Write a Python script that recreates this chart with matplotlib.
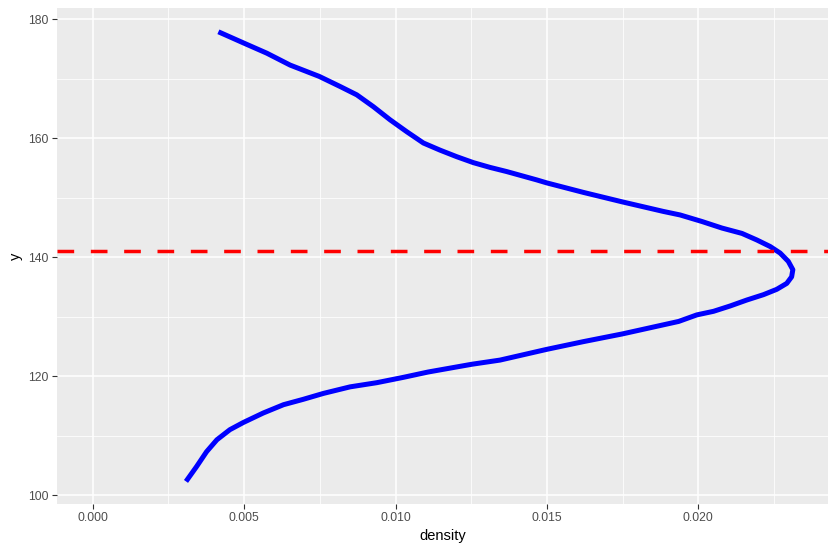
import matplotlib
matplotlib.use("Agg")
import matplotlib.pyplot as plt
from matplotlib.ticker import MultipleLocator, FormatStrFormatter

# density curve (ordered by y)
y_vals = [102.3, 104.8, 107.3, 109.3, 111.0, 112.2, 113.8, 115.2, 116.1, 117.1,
          118.2, 118.9, 119.8, 120.7, 122.0, 122.7, 123.6, 124.5, 125.8,
          127.1, 129.2, 130.3, 130.9, 131.8, 132.8, 133.7, 134.6, 135.6, 136.7,
          137.9, 139.3, 140.7, 141.8, 142.9, 144.0, 144.9, 146.0, 147.1, 147.7,
          149.3, 150.9, 152.5, 153.0, 154.4, 155.1, 155.9, 156.9, 158.0, 159.2,
          161.1, 163.1, 165.3, 167.3, 168.7, 170.4, 172.3, 174.3, 176.0, 177.9]
density = [0.00308, 0.00343, 0.00376, 0.00410, 0.00453, 0.00497, 0.00563, 0.00630,
           0.00695, 0.00762, 0.00850, 0.00938, 0.01026, 0.01108, 0.01252,
           0.01345, 0.01422, 0.01499, 0.01620, 0.01749, 0.01935, 0.01995, 0.02050,
           0.02105, 0.02160, 0.02215, 0.02259, 0.02292, 0.02308, 0.02312, 0.02297,
           0.02270, 0.02237, 0.02193, 0.02144, 0.02078, 0.02012, 0.01940, 0.01884,
           0.01749, 0.01620, 0.01499, 0.01466, 0.01367, 0.01312, 0.01257, 0.01202,
           0.01147, 0.01092, 0.01037, 0.00982, 0.00927, 0.00872, 0.00817, 0.00748,
           0.00652, 0.00575, 0.00499, 0.00415]
hline_y = 141.0

plt.rcParams['font.family'] = ['Liberation Sans', 'DejaVu Sans']

fig = plt.figure(figsize=(8.37, 5.56), dpi=100)
ax = fig.add_axes([0.0681, 0.0935, 0.9211, 0.8921])

ax.set_facecolor('#EBEBEB')
for s in ax.spines.values():
    s.set_visible(False)

ax.xaxis.set_major_locator(MultipleLocator(0.005))
ax.xaxis.set_minor_locator(MultipleLocator(0.0025))
ax.yaxis.set_major_locator(MultipleLocator(20))
ax.yaxis.set_minor_locator(MultipleLocator(10))
ax.xaxis.set_major_formatter(FormatStrFormatter('%.3f'))
ax.grid(which='major', color='white', linewidth=1.1)
ax.grid(which='minor', color='white', linewidth=0.55)
ax.set_axisbelow(True)
ax.tick_params(which='minor', length=0)
ax.tick_params(which='major', length=3.5, width=0.8, color='#333333',
               labelcolor='#4D4D4D', labelsize=8.8, pad=2.5)

ax.plot(density, y_vals, color='blue', linewidth=3.6, solid_capstyle='butt',
        solid_joinstyle='round')
ax.axhline(hline_y, color='red', linewidth=2.5, dashes=(4.8, 4.8))

ax.set_xlim(-0.00118, 0.02428)
ax.set_ylim(98.5, 181.9)
ax.set_xlabel('density', fontsize=10.5, labelpad=3)
ax.set_ylabel('y', fontsize=10.5, labelpad=4)

fig.savefig('out.png', dpi=100)
